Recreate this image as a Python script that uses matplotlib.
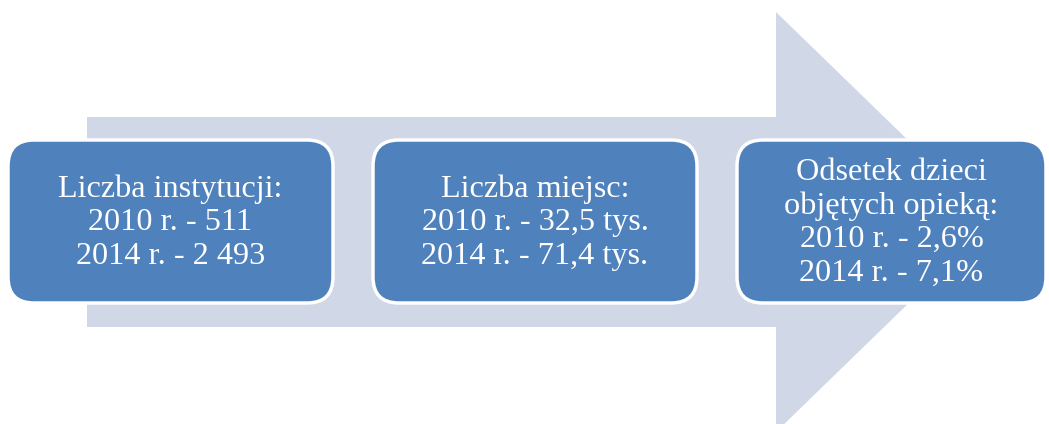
import matplotlib
matplotlib.use("Agg")
import matplotlib.pyplot as plt
from matplotlib.patches import FancyBboxPatch, Polygon

# Content
titles = ["Liczba instytucji:", "Liczba miejsc:", "Odsetek dzieci\nobjętych opieką:"]
years = ["2010 r.", "2014 r."]
values = [["511", "2 493"], ["32,5 tys.", "71,4 tys."], ["2,6%", "7,1%"]]

W, H = 1049, 424
fig = plt.figure(figsize=(W / 100, H / 100), dpi=100)
ax = fig.add_axes([0, 0, 1, 1])
ax.set_xlim(0, W)
ax.set_ylim(H, 0)
ax.axis("off")

arrow_col = "#D0D8E8"
box_col = "#4F81BD"

# background arrow (pixel geometry)
cy = 222
shaft_half = 105
head_x = 776
head_top = 12
tip_x = head_x + (cy - head_top) * 1.03
arrow = Polygon([(87, cy - shaft_half), (head_x, cy - shaft_half), (head_x, head_top),
                 (tip_x, cy), (head_x, 2 * cy - head_top), (head_x, cy + shaft_half),
                 (87, cy + shaft_half)], closed=True, facecolor=arrow_col, edgecolor="none")
ax.add_patch(arrow)

boxes = [(8, 333), (373, 697), (737, 1046)]
top, bot = 140, 303
for (x0, x1), t, v in zip(boxes, titles, values):
    p = FancyBboxPatch((x0, top), x1 - x0, bot - top,
                       boxstyle="round,pad=0,rounding_size=26",
                       facecolor=box_col, edgecolor="white", linewidth=2.5)
    ax.add_patch(p)
    txt = t + "\n" + "\n".join(f"{y} - {val}" for y, val in zip(years, v))
    ax.text((x0 + x1) / 2, (top + bot) / 2 + 1, txt, ha="center", va="center",
            color="white", fontsize=23.2, family="Liberation Serif", linespacing=1.2)

fig.savefig("out.png", dpi=100)
